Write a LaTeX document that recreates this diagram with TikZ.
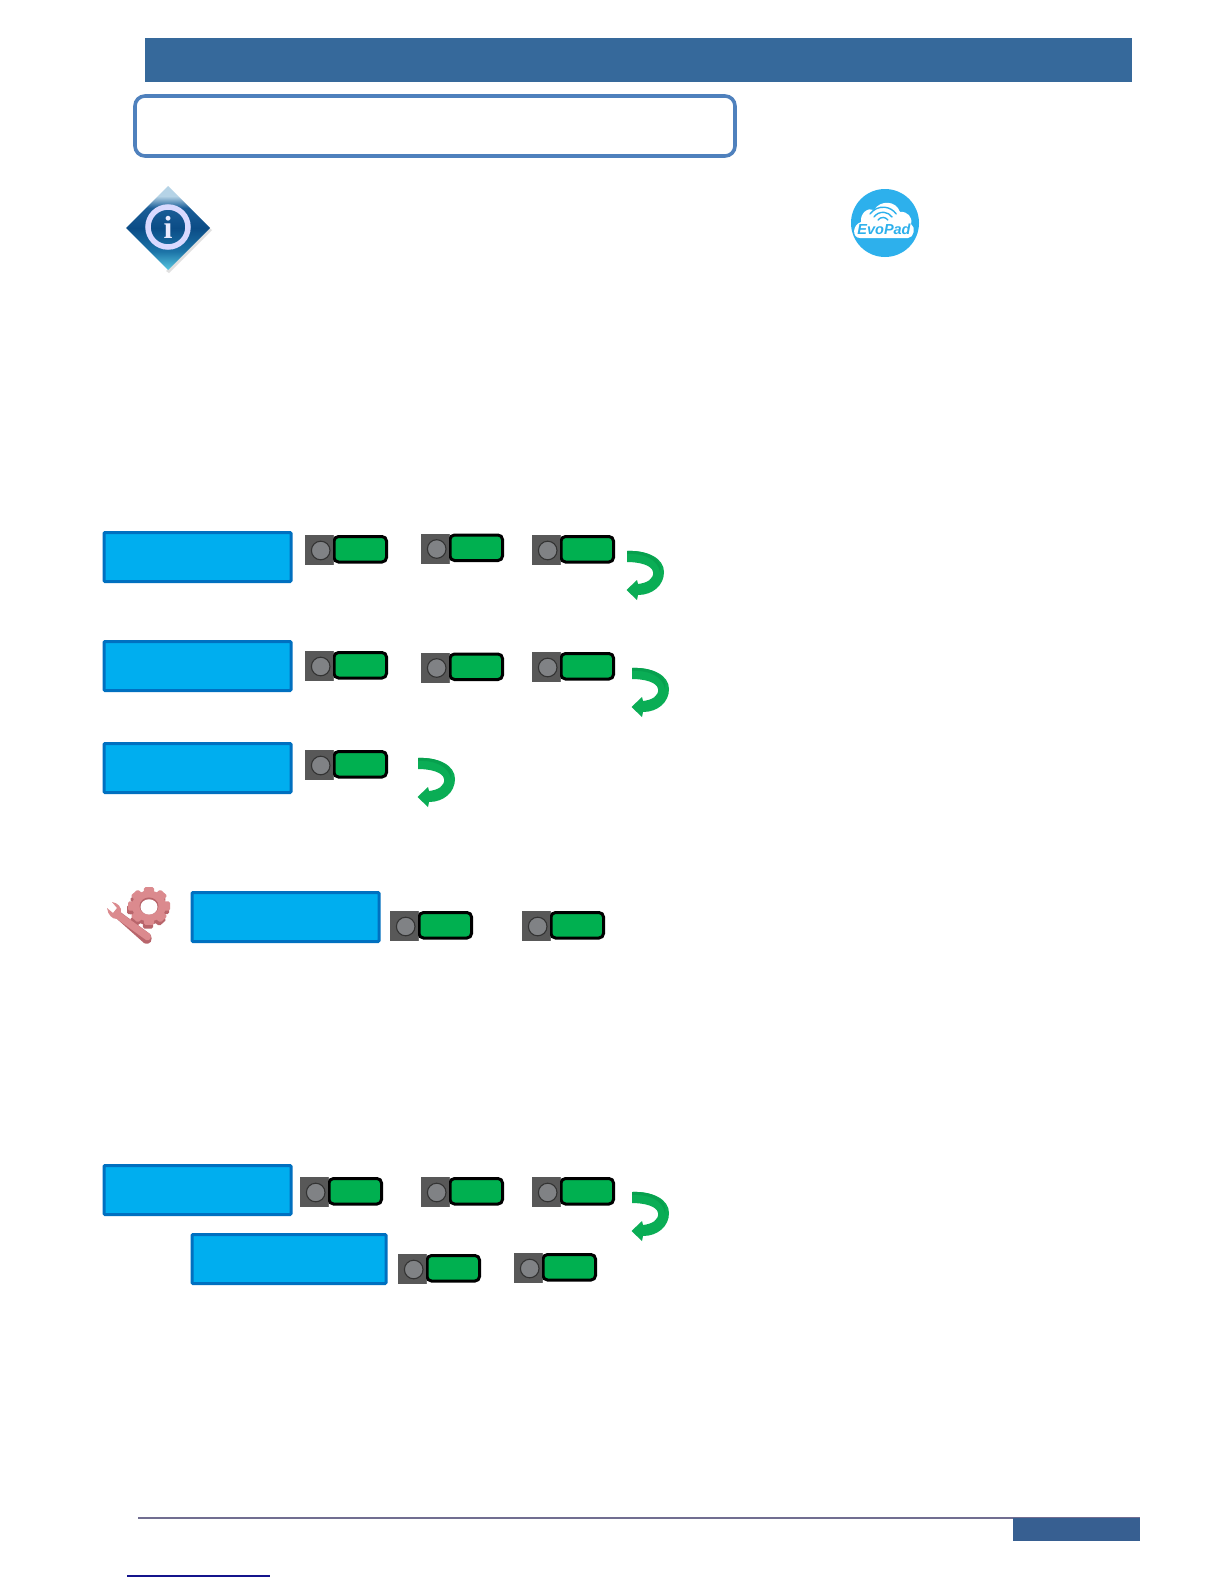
\documentclass[tikz,border=0pt]{standalone}
\usepackage{fontspec}
\setmainfont{Liberation Serif}
\newfontfamily\evofont{Liberation Sans}
\usetikzlibrary{shapes.geometric,shadings}
\definecolor{hdr}{HTML}{36699B}
\definecolor{frameblue}{HTML}{4F81BD}
\definecolor{lcdfill}{HTML}{00AEEF}
\definecolor{lcdedge}{HTML}{0070C0}
\definecolor{keygreen}{HTML}{00B050}
\definecolor{keygrey}{HTML}{585858}
\definecolor{knob}{HTML}{808285}
\definecolor{arrowgreen}{HTML}{0AAD55}
\definecolor{arrowdark}{HTML}{07A04E}
\definecolor{footbar}{HTML}{375F91}
\definecolor{footline}{HTML}{716E91}
\definecolor{linkline}{HTML}{14148C}
\definecolor{gearc}{HTML}{DB8A8E}
\definecolor{geard}{HTML}{B8656B}
\definecolor{evoblue}{HTML}{2DB0EC}
\definecolor{infoA}{HTML}{58C8E0}
\definecolor{infoB}{HTML}{1C74A8}
\definecolor{infoC}{HTML}{0B4C86}
\definecolor{infoD}{HTML}{1B5E98}
\definecolor{infoE}{HTML}{B5D3E6}
\pgfdeclareverticalshading{infodiamond}{100bp}{
  color(0bp)=(infoA);
  color(25bp)=(infoA);
  color(36bp)=(infoB);
  color(50bp)=(infoC);
  color(62bp)=(infoD);
  color(69bp)=(infoE);
  color(75bp)=(infoE);
  color(100bp)=(infoE)}
\tikzset{
  x=1pt,y=-1pt,
  lcdbox/.style={draw=lcdedge,line width=3pt,fill=lcdfill,rounded corners=1pt,inner sep=0pt,anchor=north west},
  pics/keypair/.style={code={
    \fill[keygrey] (0,0) rectangle (29,30);
    \draw[black!55,line width=.7pt] (.4,.4) rectangle (28.6,29.6);
    \draw[black,line width=3pt,rounded corners=4.5pt,fill=keygreen] (29,1.5) -- (81.5,1.5) -- (81.5,27) -- (29,27) -- cycle;
    \fill[keygrey] (0,0) rectangle (28,30);
    \draw[black!80,line width=1.1pt,fill=knob] (15.7,15.5) circle[radius=9.3];
  }},
  pics/turnarrow/.style={code={
    \fill[arrowgreen] (0,0) -- (0,11)
      .. controls (12,11) and (25,14) .. (26,21)
      .. controls (27,28) and (20,32) .. (11,33)
      -- (10,29) -- (-0.5,39) -- (10,49) -- (11,44)
      .. controls (26,44) and (37,34) .. (37,21)
      .. controls (37,7) and (20,-1) .. (0,0) -- cycle;
    \fill[arrowdark] (0,0) -- (0,3)
      .. controls (18,2) and (31,9) .. (33,21)
      .. controls (37,8) and (20,-1) .. (0,0) -- cycle;
  }}
}
\begin{document}
\begin{tikzpicture}
\useasboundingbox (0,0) rectangle (1224,1584);
\fill[white] (0,0) rectangle (1224,1584);
% header
\fill[hdr] (145,38) rectangle (1132,82);
\draw[frameblue,line width=3.6pt,rounded corners=10pt] (135,96) rectangle (735,156);

% info icon
\fill[black!30,opacity=.4] (212,230) -- (169,273) -- (166,271) -- (209,228) -- cycle;
\shade[shading=infodiamond]
  (168,186) -- (210,228) -- (168,270) -- (126,228) -- cycle;
\draw[white!85!blue,line width=5.5pt] (168,227) circle[radius=20];
\node[font=\bfseries\fontsize{32}{32}\selectfont,text=white!92!blue,inner sep=0pt] (infoglyph) at (168,227) {i};

% EvoPad icon
\fill[evoblue] (885,223) circle[radius=34];
\fill[white] (860,238) .. controls (852,238) and (852,225) .. (861,222)
  .. controls (860,213) and (868,207) .. (874,210)
  .. controls (880,200) and (896,200) .. (900,212)
  .. controls (907,211) and (913,217) .. (911,224)
  .. controls (916,227) and (914,238) .. (908,238) -- cycle;
\draw[evoblue,line width=1.4pt,line cap=round] (870,214) arc[start angle=215,end angle=325,radius=16];
\draw[evoblue,line width=1.4pt,line cap=round] (874,217) arc[start angle=215,end angle=325,radius=11];
\draw[evoblue,line width=1.4pt,line cap=round] (878,220) arc[start angle=215,end angle=325,radius=6];
\node[font=\evofont\bfseries\itshape\fontsize{14.5}{14.5}\selectfont,text=evoblue,inner sep=0pt] (evotext) at (884,229) {EvoPad};

% gear icon
\begin{scope}[shift={(149,906)},yscale=.9]
  \begin{scope}[shift={(-1,4)}]
  \foreach \a in {0,45,...,315}{
    \fill[geard,rotate=\a,rounded corners=1.5pt] (-6,0) -- (-5,-21) -- (5,-21) -- (6,0) -- cycle;
  }
  \fill[geard] (0,0) circle[radius=17];
  \end{scope}
  \foreach \a in {0,45,...,315}{
    \fill[gearc,rotate=\a,rounded corners=1.5pt] (-6,0) -- (-5,-21) -- (5,-21) -- (6,0) -- cycle;
  }
  \fill[gearc] (0,0) circle[radius=17];
  \fill[geard] (0,0) circle[radius=9.5];
  \fill[white] (0,1) circle[radius=8.5];
\end{scope}
\fill[geard] (117,919) -- (119,911) -- (150,934) .. controls (154,940) and (150,946) .. (144,943) -- cycle;
\fill[gearc] (107,908) .. controls (108,915) and (112,919) .. (117,919) -- (146,940) .. controls (150,941) and (152,938) .. (150,934) -- (121,913)
  .. controls (122,907) and (118,903) .. (112,902) -- (117,908) -- (113,913) -- cycle;

% panels
\node[lcdbox,minimum width=187pt,minimum height=49pt] (lcdA) at (102.5,531) {};
\node[lcdbox,minimum width=187pt,minimum height=49pt] (lcdB) at (102.5,640) {};
\node[lcdbox,minimum width=187pt,minimum height=49pt] (lcdC) at (102.5,742) {};
\node[lcdbox,minimum width=187pt,minimum height=49pt] (lcdD) at (190.5,891) {};
\node[lcdbox,minimum width=187pt,minimum height=49pt] (lcdE) at (102.5,1164) {};
\node[lcdbox,minimum width=194pt,minimum height=49pt] (lcdF) at (190.5,1233) {};

% keys
\foreach \kx/\ky in {305/535,421/533.5,532/535,
                     305/651,421/652.5,532/652,
                     305/750,
                     390/911,522/911,
                     300/1177,421/1177,532/1177,
                     398/1254,514/1253}{
  \pic at (\kx,\ky) {keypair};
}

% turn arrows
\foreach \ax/\ay in {627/551,632/668,418/758,632/1192}{
  \pic at (\ax,\ay) {turnarrow};
}

% footer
\draw[footline,line width=1.2pt] (138,1518) -- (1140,1518);
\fill[footbar] (1013,1518) rectangle (1140,1541);
\draw[linkline,line width=1.2pt] (127,1576) -- (270,1576);
\end{tikzpicture}
\end{document}
